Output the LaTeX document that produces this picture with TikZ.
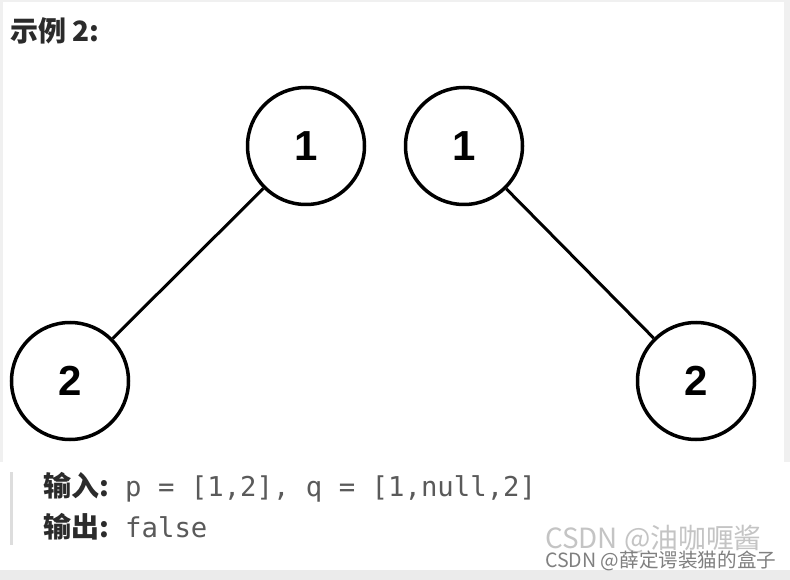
\documentclass[tikz,border=0pt]{standalone}
\usepackage{fontspec}
\newfontfamily\cjk{Noto Sans CJK SC}
\newfontfamily\monof{DejaVu Sans Mono}
\newfontfamily\arialf{Liberation Sans}
\definecolor{framegray}{HTML}{F0F0F0}
\definecolor{bandgray}{HTML}{EBEBEB}
\definecolor{quotebar}{HTML}{DDDDDD}
\definecolor{codegray}{HTML}{5A5A5A}
\definecolor{titlegray}{HTML}{2B2B2B}
\definecolor{wmlight}{HTML}{C4C4C4}
\definecolor{wmdark}{HTML}{808080}
\begin{document}
\begin{tikzpicture}[x=1pt,y=-1pt,
  treenode/.style={circle,draw=black,line width=3.5pt,minimum size=117pt,inner sep=0pt,
    font=\arialf\bfseries\fontsize{42}{42}\selectfont},
  treeedge/.style={line width=3pt,draw=black},
  cjklabel/.style={anchor=base west,inner sep=0pt,text=titlegray,font=\cjk\bfseries\fontsize{28}{28}\selectfont},
  codetext/.style={anchor=base west,inner sep=0pt,text=codegray,font=\monof\fontsize{27.3}{27.3}\selectfont}]
\useasboundingbox (0,0) rectangle (790,580);
\fill[white] (0,0) rectangle (790,580);
% frame strips
\fill[framegray] (0,0) rectangle (790,2);
\fill[framegray] (0,0) rectangle (3,462);
\fill[framegray] (784,0) rectangle (790,462);
\fill[bandgray] (0,570) rectangle (790,580);
\fill[quotebar] (10,472) rectangle (13,545);
% title
\node[cjklabel] (title) at (10,42) {示例 2:};
% trees
\node[treenode] (p1) at (306,146) {1};
\node[treenode] (p2) at (70,381) {2};
\node[treenode] (q1) at (464,146) {1};
\node[treenode] (q2) at (696,381) {2};
\draw[treeedge] (p1) -- (p2);
\draw[treeedge] (q1) -- (q2);
% input / output
\node[cjklabel] (inlabel) at (43,496) {输入:};
\node[codetext] (incode) at (125,496) {p = [1,2], q = [1,null,2]};
\node[cjklabel] (outlabel) at (43,537) {输出:};
\node[codetext] (outcode) at (125,537) {false};
% watermarks
\node[anchor=base west,inner sep=0pt,text=wmlight,font=\cjk\fontsize{27.8}{27.8}\selectfont] (wm1) at (545,548) {CSDN @油咖喱酱};
\node[anchor=base west,inner sep=0pt,text=wmdark,font=\cjk\fontsize{19.6}{19.6}\selectfont] (wm2) at (545,567) {CSDN @薛定谔装猫的盒子};
\end{tikzpicture}
\end{document}
